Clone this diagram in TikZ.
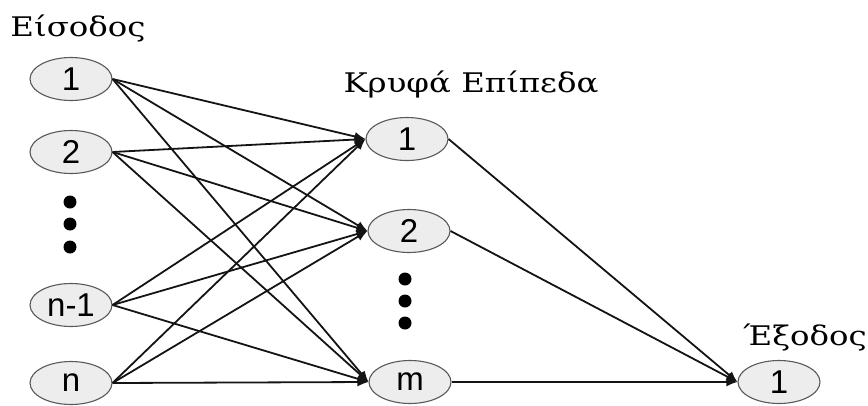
\documentclass[tikz,border=0pt]{standalone}
\usepackage{fontspec}
\setmainfont{DejaVu Serif}
\newfontfamily\numfont{Liberation Sans}
\usetikzlibrary{shapes.geometric,arrows.meta}
\newcommand{\widetext}[1]{\scalebox{1.2}[1]{#1}}
\tikzset{
  neuron/.style={ellipse, draw=black!65, line width=1.1pt, fill=black!7,
    minimum width=82pt, minimum height=43pt, inner sep=0pt,
    font=\numfont\fontsize{33}{33}\selectfont},
  vdot/.style={circle, fill=black, inner sep=0pt, minimum size=13pt},
  layerlabel/.style={font=\fontsize{27}{27}\selectfont, inner sep=0pt, anchor=base},
  link/.style={line width=1.8pt, draw=black!92, -{Latex[length=11pt,width=9pt]}},
}
\begin{document}
\begin{tikzpicture}[x=1pt,y=-1pt]
\useasboundingbox (0,0) rectangle (868,405);
% input layer
\node[neuron] (i1) at (71,79) {1};
\node[neuron] (i2) at (71,152) {2};
\node[neuron] (in1) at (71,305) {n-1};
\node[neuron] (in) at (71,383) {n};
\node[vdot] (ld1) at (70,202) {};
\node[vdot] (ld2) at (70,224) {};
\node[vdot] (ld3) at (70,247) {};
% hidden layer
\node[neuron] (h1) at (407,139) {1};
\node[neuron] (h2) at (409,231) {2};
\node[neuron] (hm) at (410,382) {m};
\node[vdot] (hd1) at (405,279) {};
\node[vdot] (hd2) at (405,301) {};
\node[vdot] (hd3) at (405,323) {};
% output layer
\node[neuron] (o1) at (779,382) {1};
% labels
\node[layerlabel] (lin) at (78,36) {\widetext{Είσοδος}};
\node[layerlabel] (lhid) at (471,92) {\widetext{Κρυφά Επίπεδα}};
\node[layerlabel] (lout) at (805,345) {\widetext{Έξοδος}};
% connections input -> hidden
\foreach \s in {i1,i2,in1,in}
  \foreach \t in {h1,h2,hm}
    \draw[link] (\s.east) -- (\t.west);
% connections hidden -> output
\foreach \s in {h1,h2,hm}
  \draw[link] (\s.east) -- (o1.west);
\end{tikzpicture}
\end{document}
